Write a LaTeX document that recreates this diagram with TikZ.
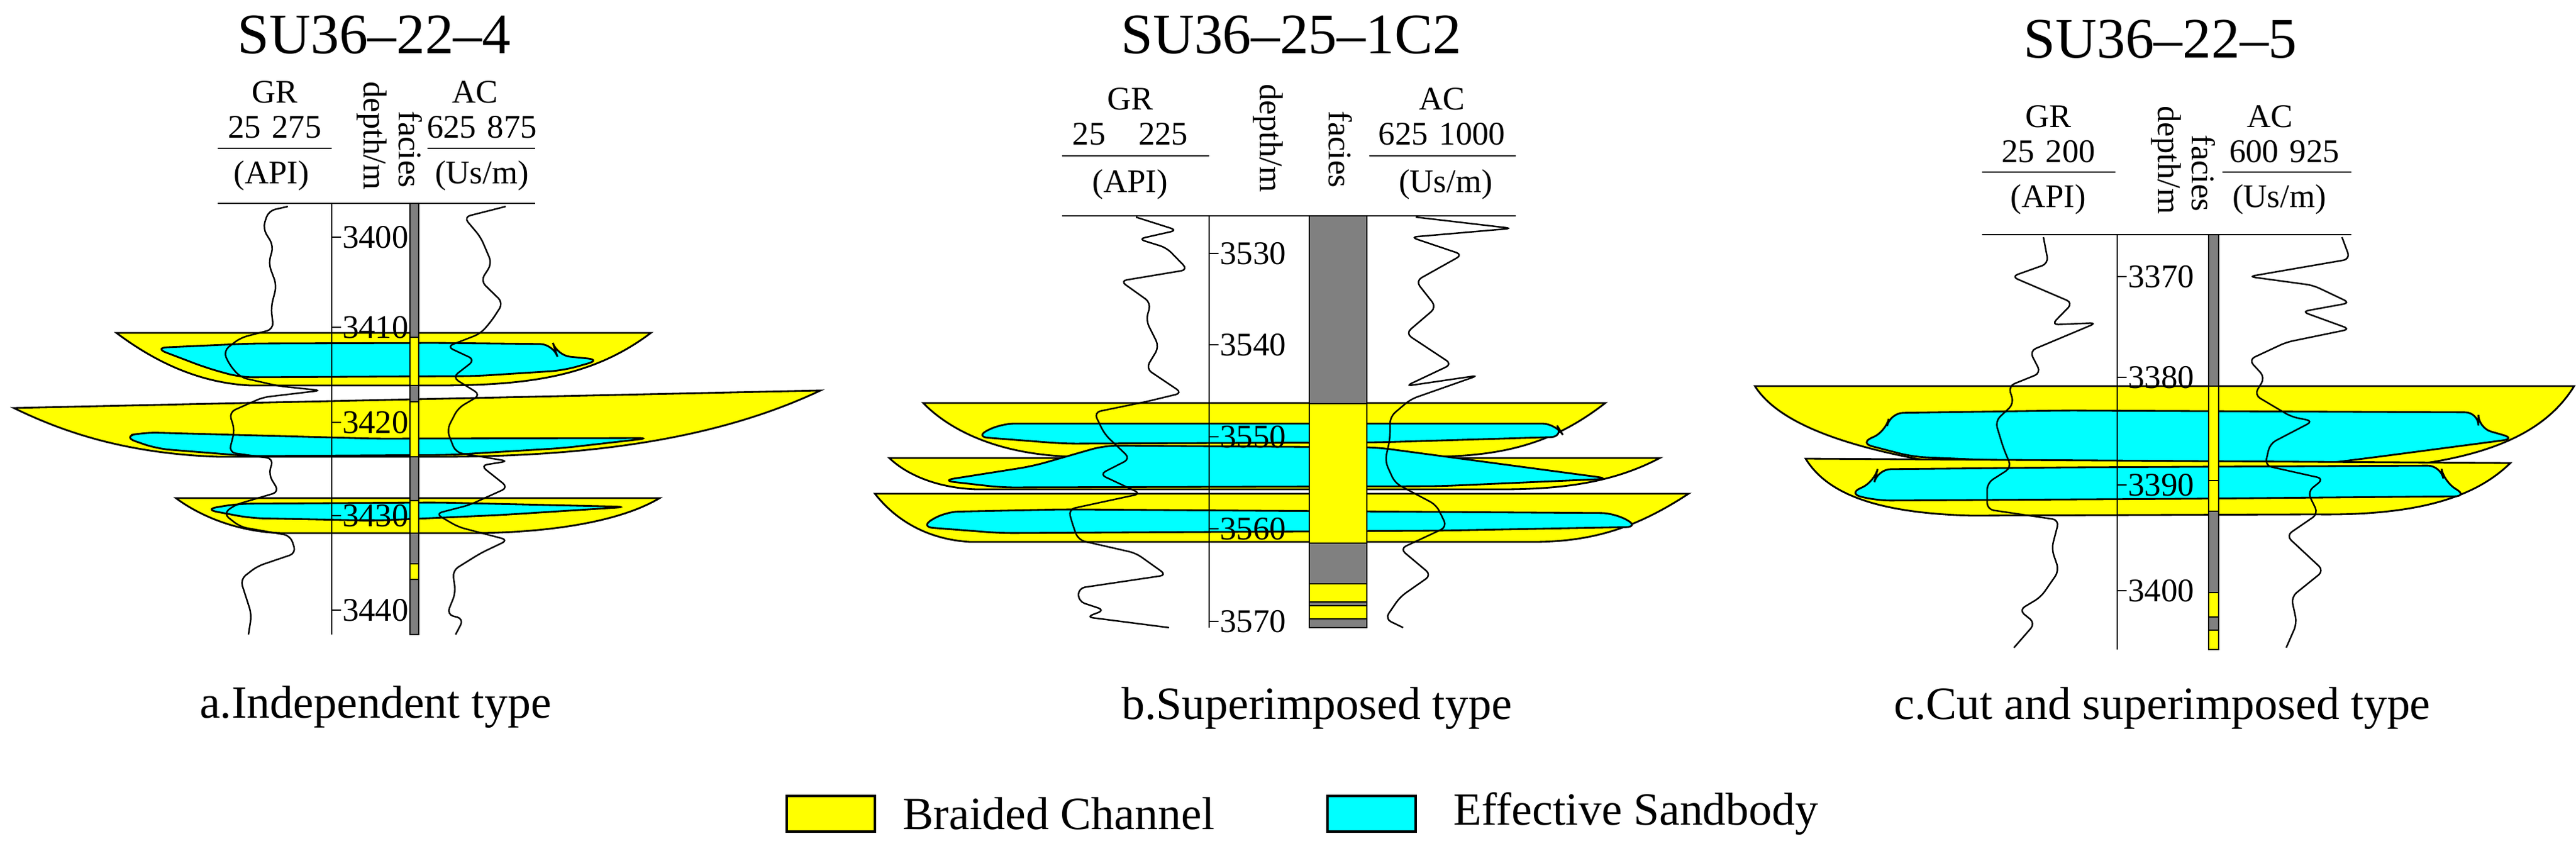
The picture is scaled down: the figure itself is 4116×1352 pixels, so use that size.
\documentclass[tikz,border=0pt]{standalone}
\usepackage{fontspec}
\setmainfont{Liberation Serif}
\definecolor{sandc}{RGB}{0,255,255}
\definecolor{chan}{RGB}{255,255,0}
\definecolor{shale}{RGB}{128,128,128}
\begin{document}
\begin{tikzpicture}[x=0.01cm,y=-0.01cm,
  ln/.style={line width=0.8pt},
  lens/.style={fill=chan,draw=black,line width=0.8pt},
  sand/.style={fill=sandc,draw=black,line width=0.8pt,rounded corners=6},
  logc/.style={line width=0.7pt,rounded corners=3},
  fac/.style={fill=shale,draw=black,line width=0.6pt},
  facy/.style={fill=chan,draw=black,line width=0.6pt},
  ttl/.style={font=\fontsize{26}{26}\selectfont},
  hdr/.style={font=\fontsize{15}{15}\selectfont,inner sep=1pt},
  tick/.style={font=\fontsize{15}{15}\selectfont,inner sep=1pt,anchor=west},
  captxt/.style={font=\fontsize{21}{21}\selectfont}]
\useasboundingbox (0,0) rectangle (4116,1352);
%%%%%%%%%%%%%%%% panel a
\draw[lens] (186,532) -- (1040,532) .. controls (950,600) and (850,616) .. (700,616) -- (400,616) .. controls (320,612) and (250,580) .. (186,532) -- cycle;
\draw[sand] (246,556) -- (400,549) -- (700,548) -- (884,550) -- (890,568) -- (960,575) -- (900,592) -- (760,601) -- (384,603) -- (330,588) -- cycle;
\draw[lens] (22,652) -- (1311,624) .. controls (1150,700) and (950,730) .. (700,730) -- (350,730) .. controls (200,725) and (100,690) .. (22,652) -- cycle;
\draw[sand] (196,698) -- (230,691) -- (600,701) -- (1040,700) -- (900,716) -- (720,727) -- (400,729) -- (250,717) -- cycle;
\draw[lens] (281,796) -- (1054,796) .. controls (980,840) and (850,852) .. (750,852) -- (450,852) .. controls (380,850) and (320,825) .. (281,796) -- cycle;
\draw[sand] (326,814) -- (380,805) -- (700,803) -- (1004,810) -- (800,823) -- (600,832) -- (400,828) -- cycle;
\node[ttl] (ta) at (598,56) {SU36–22–4};
\node[hdr] (agr) at (439,147) {GR};
\node[hdr] (agrs) at (439,203) {25\,\,275};
\node[hdr] (agru) at (434,281) {(API)};
\node[hdr,rotate=-90] (adep) at (594,217) {depth/m};
\node[hdr,rotate=-90] (afac) at (656,239) {facies};
\node[hdr] (aac) at (759,147) {AC};
\node[hdr] (aacs) at (770,203) {625\,\,875};
\node[hdr] (aacu) at (770,281) {(Us/m)};
\draw[ln] (348,237) -- (530,237) (683,237) -- (855,237) (348,325) -- (855,325);
\draw[ln] (530,325) -- (530,1014);
\foreach \y/\t in {379/3400,523/3410,675/3420,824/3430,975/3440}{\draw[ln] (530,\y) -- (545,\y); \node[tick] at (543,\y) {\t};}
\draw[fac] (655,325) rectangle (669,1014);
\foreach \a/\b in {539/616,642/730,800/852,901/926}{\draw[facy] (655,\a) rectangle (669,\b);}
\draw[logc] (460,330) -- (429,337) -- (420,365) -- (437,393) -- (429,421) -- (442,456) -- (433,491) -- (437,526) -- (384,540) -- (357,561) -- (366,582) -- (384,603) -- (446,617) -- (513,624) -- (420,635) -- (366,659) -- (375,687) -- (366,723) -- (437,733) -- (429,758) -- (446,786) -- (375,807) -- (357,821) -- (384,842) -- (464,856) -- (473,884) -- (411,905) -- (384,926) -- (393,954) -- (402,982) -- (397,1014);
\draw[logc] (808,330) -- (741,347) -- (768,379) -- (786,421) -- (768,449) -- (804,484) -- (786,512) -- (768,533) -- (714,554) -- (759,575) -- (723,603) -- (768,631) -- (732,652) -- (714,687) -- (728,723) -- (812,737) -- (768,744) -- (812,779) -- (750,807) -- (696,821) -- (732,842) -- (812,863) -- (768,884) -- (723,912) -- (728,947) -- (714,982) -- (741,989) -- (728,1014);
\node[captxt] (ca) at (600,1130) {a.Independent type};
%%%%%%%%%%%%%%%% panel b
\draw[lens] (1475,644) -- (2565,644) .. controls (2480,710) and (2400,730) .. (2280,730) -- (1720,730) .. controls (1600,728) and (1520,690) .. (1475,644) -- cycle;
\draw[sand] (1558,698) -- (1599,677) -- (2486,677) -- (2499,698) -- (2200,707) -- (1700,709) -- cycle;
\draw[lens] (1421,732) -- (2652,732) .. controls (2580,770) and (2500,782) .. (2400,782) -- (1560,782) .. controls (1500,780) and (1450,760) .. (1421,732) -- cycle;
\draw[sand] (1504,768) -- (1650,745) -- (1765,712) -- (2200,715) -- (2573,765) -- (2300,777) -- (1600,779) -- cycle;
\draw[lens] (1398,789) -- (2698,789) .. controls (2620,840) and (2550,866) .. (2450,866) -- (1550,866) .. controls (1480,862) and (1430,830) .. (1398,789) -- cycle;
\draw[sand] (1470,842) -- (1510,818) -- (1700,814) -- (2580,820) -- (2619,842) -- (2300,848) -- (1600,852) -- cycle;
\node[ttl] (tb) at (2063,56) {SU36–25–1C2};
\node[hdr] (bgr) at (1806,158) {GR};
\node[hdr] (bgrs) at (1806,214) {25\quad 225};
\node[hdr] (bgru) at (1806,295) {(API)};
\node[hdr,rotate=-90] (bdep) at (2026,221) {depth/m};
\node[hdr,rotate=-90] (bfac) at (2142,239) {facies};
\node[hdr] (bac) at (2304,158) {AC};
\node[hdr] (bacs) at (2304,214) {625\,\,1000};
\node[hdr] (bacu) at (2310,295) {(Us/m)};
\draw[ln] (1697,249) -- (1932,249) (2188,249) -- (2422,249) (1697,345) -- (2422,345);
\draw[ln] (1932,345) -- (1932,1003);
\foreach \y/\t in {405/3530,551/3540,698/3550,845/3560,993/3570}{\draw[ln] (1932,\y) -- (1947,\y); \node[tick] at (1945,\y) {\t};}
\draw[fac] (2092,345) rectangle (2184,1003);
\foreach \a/\b in {645/868,933/962,968/989}{\draw[facy] (2092,\a) rectangle (2184,\b);}
\draw[logc] (1815,347) -- (1881,368) -- (1819,382) -- (1864,396) -- (1898,431) -- (1790,449) -- (1839,484) -- (1831,512) -- (1852,554) -- (1831,589) -- (1889,628) -- (1831,642) -- (1748,659) -- (1765,694) -- (1806,733) -- (1757,758) -- (1823,789) -- (1707,814) -- (1715,842) -- (1723,863) -- (1815,884) -- (1864,919) -- (1723,940) -- (1723,961) -- (1765,975) -- (1736,986) -- (1868,1003);
\draw[logc] (2262,347) -- (2416,365) -- (2254,379) -- (2337,407) -- (2262,449) -- (2295,491) -- (2246,533) -- (2320,582) -- (2246,617) -- (2362,600) -- (2254,638) -- (2221,666) -- (2221,701) -- (2213,737) -- (2229,772) -- (2295,807) -- (2312,842) -- (2237,877) -- (2287,919) -- (2237,954) -- (2213,989) -- (2242,1003);
\node[captxt] (cb) at (2104,1132) {b.Superimposed type};
%%%%%%%%%%%%%%%% panel c
\draw[lens] (2804,617) -- (4113,617) .. controls (4050,720) and (3900,754) .. (3650,754) -- (3200,754) .. controls (3000,730) and (2850,690) .. (2804,617) -- cycle;
\draw[sand] (2971,708) -- (3013,690) -- (3020,660) -- (3300,656) -- (3960,659) -- (3960,684) -- (4020,701) -- (3800,730) -- (3610,754) -- (3056,730) -- cycle;
\draw[lens] (2885,733) -- (4011,740) .. controls (3950,800) and (3850,824) .. (3700,822) -- (3150,824) .. controls (3000,820) and (2920,790) .. (2885,733) -- cycle;
\draw[sand] (2953,789) -- (2995,770) -- (3000,750) -- (3300,747) -- (3900,744) -- (3905,770) -- (3943,793) -- (3500,797) -- (3000,800) -- cycle;
\node[ttl] (tc) at (3452,63) {SU36–22–5};
\node[hdr] (cgr) at (3273,186) {GR};
\node[hdr] (cgrs) at (3273,242) {25\,\,200};
\node[hdr] (cgru) at (3273,319) {(API)};
\node[hdr,rotate=-90] (cdep) at (3461,256) {depth/m};
\node[hdr,rotate=-90] (cfac) at (3521,277) {facies};
\node[hdr] (cac) at (3627,186) {AC};
\node[hdr] (cacs) at (3650,242) {600\,\,925};
\node[hdr] (cacu) at (3642,319) {(Us/m)};
\draw[ln] (3167,275) -- (3380,275) (3551,275) -- (3757,275) (3167,375) -- (3757,375);
\draw[ln] (3383,375) -- (3383,1038);
\foreach \y/\t in {442/3370,603/3380,775/3390,944/3400}{\draw[ln] (3383,\y) -- (3398,\y); \node[tick] at (3396,\y) {\t};}
\draw[fac] (3529,375) rectangle (3545,1038);
\foreach \a/\b in {617/768,768/817,947/986,1007/1038}{\draw[facy] (3529,\a) rectangle (3545,\b);}
\draw[logc] (3265,379) -- (3273,421) -- (3214,442) -- (3312,484) -- (3278,519) -- (3350,516) -- (3243,561) -- (3261,596) -- (3209,617) -- (3218,645) -- (3188,673) -- (3201,716) -- (3214,747) -- (3175,772) -- (3175,814) -- (3290,831) -- (3278,877) -- (3290,912) -- (3261,954) -- (3226,975) -- (3252,996) -- (3218,1035);
\draw[logc] (3742,379) -- (3755,414) -- (3593,442) -- (3696,456) -- (3755,484) -- (3678,498) -- (3755,526) -- (3653,547) -- (3593,575) -- (3619,603) -- (3602,631) -- (3661,666) -- (3696,673) -- (3627,709) -- (3619,744) -- (3713,765) -- (3687,786) -- (3704,821) -- (3653,856) -- (3713,912) -- (3661,954) -- (3670,996) -- (3653,1035);
\node[captxt] (cc) at (3455,1132) {c.Cut and superimposed type};
%%%%%%%%%%%%%%%% legend
\draw[facy,line width=0.9pt] (1257,1272) rectangle (1398,1329);
\node[captxt,anchor=west] (lb) at (1430,1300) {Braided Channel};
\draw[fill=sandc,line width=0.9pt] (2121,1272) rectangle (2262,1329);
\node[captxt,anchor=west] (le) at (2310,1300) {Effective Sandbody};
\end{tikzpicture}
\end{document}
